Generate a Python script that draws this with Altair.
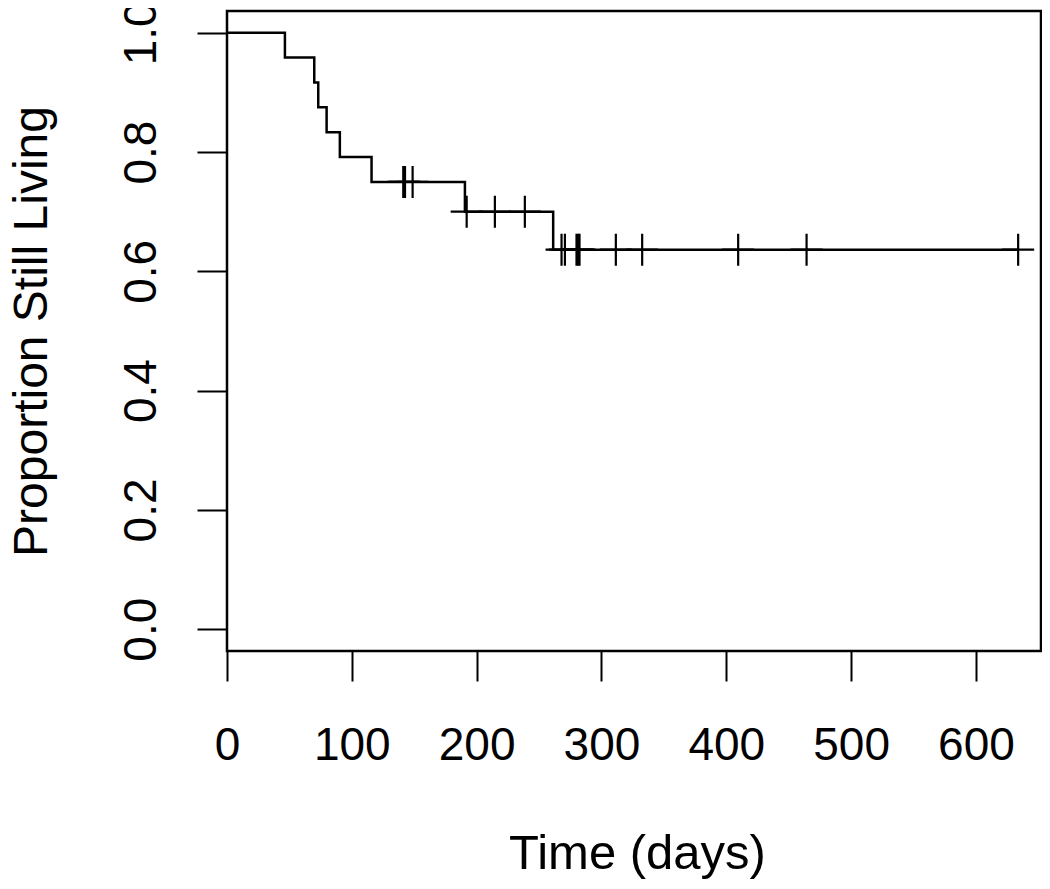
import altair as alt
import pandas as pd

# Kaplan-Meier step curve (time in days, survival proportion)
step_times = [0, 46.4, 69.9, 73.1, 79.8, 90.4, 115.8, 190.6, 261.3, 633.8]
step_surv = [1.0, 23/24, 22/24, 21/24, 20/24, 19/24, 18/24, 0.70, 0.63636, 0.63636]

# censored observations ("+" marks)
censor_times = [141.2, 142.6, 148.7, 192.0, 214.6, 238.6,
                268.0, 270.7, 280.0, 281.3, 282.4, 311.5, 332.6, 409.5, 464.3, 633.8]
censor_surv = [0.75, 0.75, 0.75, 0.70, 0.70, 0.70,
               0.63636, 0.63636, 0.63636, 0.63636, 0.63636, 0.63636, 0.63636,
               0.63636, 0.63636, 0.63636]

x_ticks = [0, 100, 200, 300, 400, 500, 600]
y_ticks = [0.0, 0.2, 0.4, 0.6, 0.8, 1.0]

steps = pd.DataFrame({"t": step_times, "s": step_surv})
cens = pd.DataFrame({"t": censor_times, "s": censor_surv})

FONT = "Liberation Sans"

x_scale = alt.Scale(domain=[0, 652.1], nice=False, zero=False)
y_scale = alt.Scale(domain=[-0.0365, 1.0365], nice=False, zero=False)

x_axis = alt.Axis(
    values=x_ticks, title="Time (days)", grid=False, domain=False,
    ticks=True, tickSize=30, tickWidth=2, tickColor="black",
    labelFont=FONT, labelFontSize=46, labelColor="black",
    labelBaseline="alphabetic", labelPadding=78, labelFlush=False,
    labelOverlap=False,
    titleFont=FONT, titleFontSize=49, titleFontWeight="normal", titleColor="black",
    titleBaseline="alphabetic", titleAlign="center", titleX=410, titleY=217,
)
y_axis = alt.Axis(
    values=y_ticks, format=".1f", title="Proportion Still Living", grid=False,
    domain=False, ticks=True, tickSize=30, tickWidth=2, tickColor="black",
    labelFont=FONT, labelFontSize=46, labelColor="black", labelAngle=270,
    labelAlign="center", labelBaseline="alphabetic", labelPadding=42,
    labelFlush=False, labelOverlap=False,
    titleFont=FONT, titleFontSize=48, titleFontWeight="normal", titleColor="black",
    titleAngle=270, titleBaseline="alphabetic", titleAlign="center",
    titleX=-181, titleY=320,
)

line = alt.Chart(steps).mark_line(
    interpolate="step-after", color="black", strokeWidth=2.5
).encode(
    x=alt.X("t:Q", scale=x_scale, axis=x_axis),
    y=alt.Y("s:Q", scale=y_scale, axis=y_axis),
)

plus = alt.Chart(cens).mark_point(
    shape="M-1,0H1M0,-1V1", size=1024, filled=False, color="black",
    strokeWidth=2.2, opacity=1
).encode(
    x=alt.X("t:Q", scale=x_scale),
    y=alt.Y("s:Q", scale=y_scale),
)

chart = alt.layer(line, plus).properties(
    width=814, height=640,
    autosize=alt.AutoSizeParams(type="none"),
    padding={"left": 219, "top": 3, "right": 1, "bottom": 230},
    background="white",
).configure_view(stroke="black", strokeWidth=2.5)

chart.save("out.html", embed_options={"renderer": "svg", "actions": False})
